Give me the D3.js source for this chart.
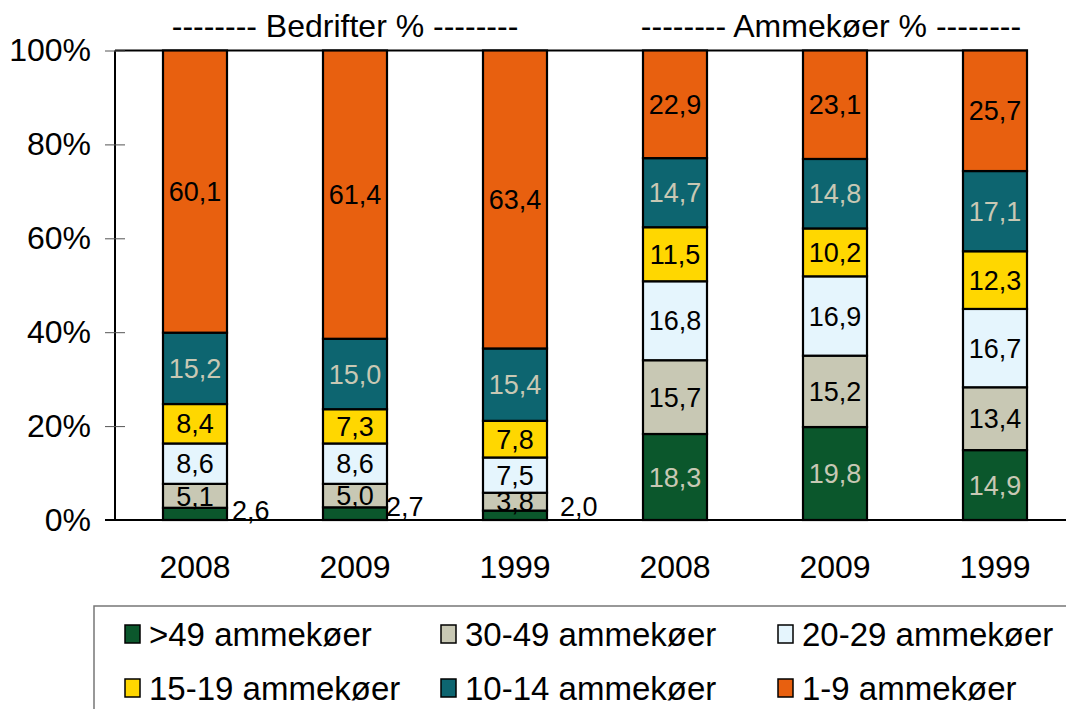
<!doctype html>
<html lang="da">
<head>
<meta charset="UTF-8" />
<title>Bedrifter og ammekøer</title>
<script src="https://d3js.org/d3.v7.min.js"></script>
<style>
  body { margin: 0; background: #fff; }
  svg { display: block; font-family: "Liberation Sans", Arial, sans-serif; }
  .axis text { font-size: 32px; fill: #000; }
  .lbl { font-size: 27px; }
</style>
</head>
<body>
<svg id="chart" width="1066" height="709"></svg>
<script>
// kolonner: gruppe + år
const groups = ["Bedrifter", "Bedrifter", "Bedrifter", "Ammekøer", "Ammekøer", "Ammekøer"];
const years = ["2008", "2009", "1999", "2008", "2009", "1999"];
const groupTitles = ["-------- Bedrifter % --------", "-------- Ammekøer % --------"];

const seriesNames = [">49 ammekøer", "30-49 ammekøer", "20-29 ammekøer", "15-19 ammekøer", "10-14 ammekøer", "1-9 ammekøer"];
const seriesColors = ["#0b572c", "#c8c8b4", "#e5f5fd", "#ffd700", "#0d6570", "#e8600f"];
const labelColors = ["#c8c8b4", "#000", "#000", "#000", "#c8c8b4", "#000"];

// værdier pr. serie, i kolonnerækkefølgen ovenfor
const over49 = [2.6, 2.7, 2.0, 18.3, 19.8, 14.9];
const s30_49 = [5.1, 5.0, 3.8, 15.7, 15.2, 13.4];
const s20_29 = [8.6, 8.6, 7.5, 16.8, 16.9, 16.7];
const s15_19 = [8.4, 7.3, 7.8, 11.5, 10.2, 12.3];
const s10_14 = [15.2, 15.0, 15.4, 14.7, 14.8, 17.1];
const s1_9 = [60.1, 61.4, 63.4, 22.9, 23.1, 25.7];
const yTicks = [0, 0.2, 0.4, 0.6, 0.8, 1];

const seriesValues = [over49, s30_49, s20_29, s15_19, s10_14, s1_9];
const keys = d3.range(seriesNames.length);
const table = years.map((y, i) => {
  const row = { id: i };
  keys.forEach(k => row[k] = seriesValues[k][i]);
  return row;
});

const svg = d3.select("#chart");
const margin = { left: 115, right: -9, top: 50.5, bottom: 189 };
const W = 1066, H = 709;

const x = d3.scaleBand()
  .domain(table.map(d => d.id))
  .range([margin.left, W - margin.right])
  .paddingInner(0.6)
  .paddingOuter(0.3);

const y = d3.scaleLinear()
  .domain([0, 1])
  .range([H - margin.bottom, margin.top]);

const stacked = d3.stack().keys(keys).offset(d3.stackOffsetExpand)(table);

// top line of plot area
svg.append("line")
  .attr("x1", margin.left).attr("x2", x(5) + x.bandwidth() + 1)
  .attr("y1", y(1)).attr("y2", y(1))
  .attr("stroke", "#000").attr("stroke-width", 2);

// bars
const layer = svg.append("g").selectAll("g")
  .data(stacked)
  .join("g")
  .attr("fill", d => seriesColors[d.key]);

layer.selectAll("rect")
  .data(d => d)
  .join("rect")
  .attr("x", d => x(d.data.id))
  .attr("y", d => y(d[1]))
  .attr("width", x.bandwidth())
  .attr("height", d => y(d[0]) - y(d[1]))
  .attr("stroke", "#000")
  .attr("stroke-width", 2.2);

// data labels (små værdier i Bedrifter står til højre for søjlen)
const outsideNudge = [[5, 0], [-1, -4], [13, -4]];
stacked.forEach(s => {
  s.forEach((d, i) => {
    const v = seriesValues[s.key][i];
    const outside = groups[i] === "Bedrifter" && s.key === 0;
    let tx = x(d.data.id) + x.bandwidth() / 2;
    let ty = (y(d[0]) + y(d[1])) / 2;
    let anchor = "middle";
    if (outside) {
      tx = x(d.data.id) + x.bandwidth() + outsideNudge[i][0];
      ty = y(0) - 10 + outsideNudge[i][1];
      anchor = "start";
    }
    svg.append("text")
      .attr("class", "lbl")
      .attr("x", tx)
      .attr("y", ty)
      .attr("dy", "0.36em")
      .attr("text-anchor", anchor)
      .attr("fill", outside ? "#000" : labelColors[s.key])
      .text(d3.format(".1f")(v).replace(".", ","));
  });
});

// y axis
const yAxis = svg.append("g")
  .attr("class", "axis")
  .attr("transform", `translate(${margin.left},0)`)
  .call(d3.axisLeft(y).tickValues(yTicks).tickFormat(d3.format(".0%")).tickSize(10).tickPadding(14));
yAxis.select(".domain").attr("stroke", "#000").attr("stroke-width", 2).attr("d", `M0,${y(1)}V${y(0)}`);
yAxis.selectAll(".tick line").attr("x2", 10).attr("x1", -10).attr("stroke", "#555");

// x axis
const xAxis = svg.append("g")
  .attr("class", "axis")
  .attr("transform", `translate(0,${y(0)})`)
  .call(d3.axisBottom(x).tickFormat(i => years[i]).tickSize(0).tickPadding(35));
xAxis.select(".domain").attr("stroke", "#000").attr("stroke-width", 2)
  .attr("d", `M${margin.left - 10},0H${W}`);

// gruppetitler
[[0, 2], [3, 5]].forEach(([a, b], gi) => {
  const cx = (x(a) + x(b) + x.bandwidth()) / 2;
  svg.append("text")
    .attr("x", cx + (gi === 0 ? -10 : -4))
    .attr("y", 37)
    .attr("text-anchor", "middle")
    .attr("font-size", 32)
    .text(groupTitles[gi]);
});

// legend
svg.append("rect")
  .attr("x", 94).attr("y", 606)
  .attr("width", 1000).attr("height", 120)
  .attr("fill", "none").attr("stroke", "#777").attr("stroke-width", 1.5);

const colX = [125, 441, 778];
const rowY = [634, 688];
const leg = svg.append("g").selectAll("g")
  .data(keys)
  .join("g")
  .attr("transform", k => `translate(${colX[k % 3]},${rowY[Math.floor(k / 3)]})`);
leg.append("rect")
  .attr("x", 0).attr("y", -9)
  .attr("width", 15).attr("height", 18)
  .attr("fill", k => seriesColors[k])
  .attr("stroke", "#000").attr("stroke-width", 1.5);
leg.append("text")
  .attr("x", 24).attr("dy", "0.36em")
  .attr("font-size", 33)
  .text(k => seriesNames[k]);
</script>
</body>
</html>
